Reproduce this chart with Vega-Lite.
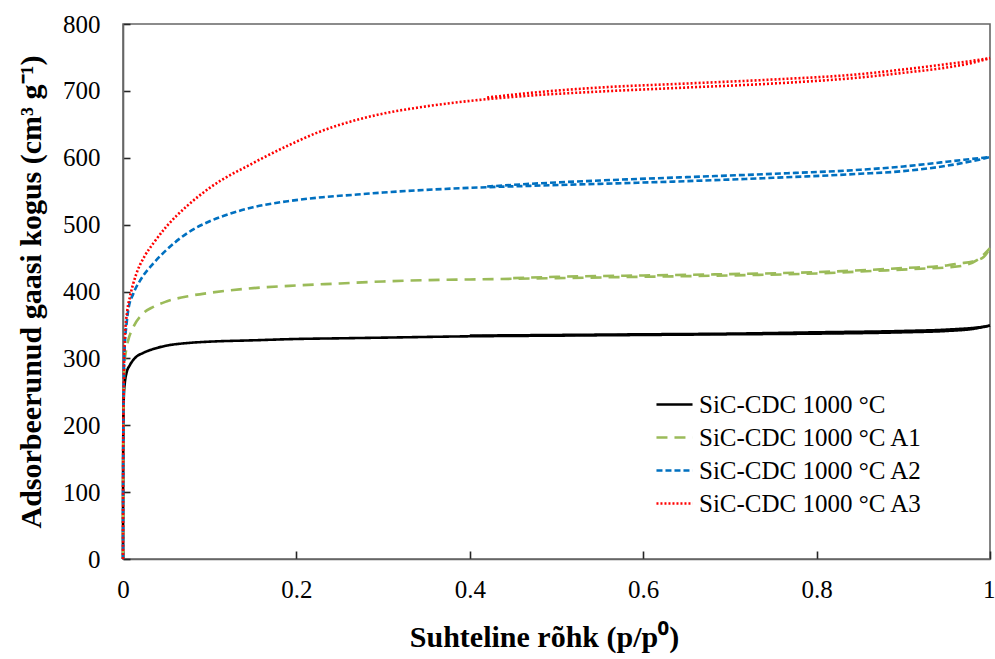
{
  "$schema": "https://vega.github.io/schema/vega-lite/v6.json",
  "width": 867,
  "height": 535,
  "autosize": "none",
  "padding": {"left": 123, "top": 24, "right": 5, "bottom": 100},
  "background": "white",
  "config": {
    "view": {"stroke": "#666666", "strokeWidth": 1.6}
  },
  "data": {
    "values": [
      {"s": "SiC-CDC 1000 °C", "b": "ads", "x": 0, "y": 0},
      {"s": "SiC-CDC 1000 °C", "b": "ads", "x": 0.0001, "y": 120},
      {"s": "SiC-CDC 1000 °C", "b": "ads", "x": 0.0004, "y": 200},
      {"s": "SiC-CDC 1000 °C", "b": "ads", "x": 0.001, "y": 245},
      {"s": "SiC-CDC 1000 °C", "b": "ads", "x": 0.002, "y": 262},
      {"s": "SiC-CDC 1000 °C", "b": "ads", "x": 0.004, "y": 278},
      {"s": "SiC-CDC 1000 °C", "b": "ads", "x": 0.008, "y": 290},
      {"s": "SiC-CDC 1000 °C", "b": "ads", "x": 0.015, "y": 302},
      {"s": "SiC-CDC 1000 °C", "b": "ads", "x": 0.023, "y": 308},
      {"s": "SiC-CDC 1000 °C", "b": "ads", "x": 0.035, "y": 314},
      {"s": "SiC-CDC 1000 °C", "b": "ads", "x": 0.05, "y": 319},
      {"s": "SiC-CDC 1000 °C", "b": "ads", "x": 0.075, "y": 323},
      {"s": "SiC-CDC 1000 °C", "b": "ads", "x": 0.1, "y": 325},
      {"s": "SiC-CDC 1000 °C", "b": "ads", "x": 0.15, "y": 327},
      {"s": "SiC-CDC 1000 °C", "b": "ads", "x": 0.2, "y": 329},
      {"s": "SiC-CDC 1000 °C", "b": "ads", "x": 0.25, "y": 330},
      {"s": "SiC-CDC 1000 °C", "b": "ads", "x": 0.3, "y": 331},
      {"s": "SiC-CDC 1000 °C", "b": "ads", "x": 0.4, "y": 333},
      {"s": "SiC-CDC 1000 °C", "b": "ads", "x": 0.5, "y": 334},
      {"s": "SiC-CDC 1000 °C", "b": "ads", "x": 0.6, "y": 335},
      {"s": "SiC-CDC 1000 °C", "b": "ads", "x": 0.7, "y": 336},
      {"s": "SiC-CDC 1000 °C", "b": "ads", "x": 0.8, "y": 337},
      {"s": "SiC-CDC 1000 °C", "b": "ads", "x": 0.9, "y": 339},
      {"s": "SiC-CDC 1000 °C", "b": "ads", "x": 0.95, "y": 341},
      {"s": "SiC-CDC 1000 °C", "b": "ads", "x": 0.98, "y": 344},
      {"s": "SiC-CDC 1000 °C", "b": "ads", "x": 1.0, "y": 349},
      {"s": "SiC-CDC 1000 °C", "b": "des", "x": 1.0, "y": 349},
      {"s": "SiC-CDC 1000 °C", "b": "des", "x": 0.99, "y": 347},
      {"s": "SiC-CDC 1000 °C", "b": "des", "x": 0.95, "y": 343},
      {"s": "SiC-CDC 1000 °C", "b": "des", "x": 0.9, "y": 341},
      {"s": "SiC-CDC 1000 °C", "b": "des", "x": 0.8, "y": 339},
      {"s": "SiC-CDC 1000 °C", "b": "des", "x": 0.7, "y": 337},
      {"s": "SiC-CDC 1000 °C", "b": "des", "x": 0.6, "y": 336},
      {"s": "SiC-CDC 1000 °C", "b": "des", "x": 0.5, "y": 335},
      {"s": "SiC-CDC 1000 °C", "b": "des", "x": 0.4, "y": 334},

      {"s": "SiC-CDC 1000 °C A1", "b": "ads", "x": 0, "y": 0},
      {"s": "SiC-CDC 1000 °C A1", "b": "ads", "x": 0.0002, "y": 150},
      {"s": "SiC-CDC 1000 °C A1", "b": "ads", "x": 0.001, "y": 260},
      {"s": "SiC-CDC 1000 °C A1", "b": "ads", "x": 0.002, "y": 295},
      {"s": "SiC-CDC 1000 °C A1", "b": "ads", "x": 0.004, "y": 315},
      {"s": "SiC-CDC 1000 °C A1", "b": "ads", "x": 0.006, "y": 327},
      {"s": "SiC-CDC 1000 °C A1", "b": "ads", "x": 0.012, "y": 347},
      {"s": "SiC-CDC 1000 °C A1", "b": "ads", "x": 0.023, "y": 367},
      {"s": "SiC-CDC 1000 °C A1", "b": "ads", "x": 0.035, "y": 377},
      {"s": "SiC-CDC 1000 °C A1", "b": "ads", "x": 0.05, "y": 385},
      {"s": "SiC-CDC 1000 °C A1", "b": "ads", "x": 0.075, "y": 393},
      {"s": "SiC-CDC 1000 °C A1", "b": "ads", "x": 0.1, "y": 398},
      {"s": "SiC-CDC 1000 °C A1", "b": "ads", "x": 0.15, "y": 405},
      {"s": "SiC-CDC 1000 °C A1", "b": "ads", "x": 0.2, "y": 409},
      {"s": "SiC-CDC 1000 °C A1", "b": "ads", "x": 0.25, "y": 412},
      {"s": "SiC-CDC 1000 °C A1", "b": "ads", "x": 0.3, "y": 415},
      {"s": "SiC-CDC 1000 °C A1", "b": "ads", "x": 0.35, "y": 417},
      {"s": "SiC-CDC 1000 °C A1", "b": "ads", "x": 0.4, "y": 418},
      {"s": "SiC-CDC 1000 °C A1", "b": "ads", "x": 0.5, "y": 420},
      {"s": "SiC-CDC 1000 °C A1", "b": "ads", "x": 0.6, "y": 422},
      {"s": "SiC-CDC 1000 °C A1", "b": "ads", "x": 0.7, "y": 424},
      {"s": "SiC-CDC 1000 °C A1", "b": "ads", "x": 0.8, "y": 427},
      {"s": "SiC-CDC 1000 °C A1", "b": "ads", "x": 0.87, "y": 431},
      {"s": "SiC-CDC 1000 °C A1", "b": "ads", "x": 0.92, "y": 434},
      {"s": "SiC-CDC 1000 °C A1", "b": "ads", "x": 0.95, "y": 436},
      {"s": "SiC-CDC 1000 °C A1", "b": "ads", "x": 0.97, "y": 439},
      {"s": "SiC-CDC 1000 °C A1", "b": "ads", "x": 0.985, "y": 447},
      {"s": "SiC-CDC 1000 °C A1", "b": "ads", "x": 0.995, "y": 458},
      {"s": "SiC-CDC 1000 °C A1", "b": "ads", "x": 1.0, "y": 465},
      {"s": "SiC-CDC 1000 °C A1", "b": "des", "x": 1.0, "y": 465},
      {"s": "SiC-CDC 1000 °C A1", "b": "des", "x": 0.993, "y": 452},
      {"s": "SiC-CDC 1000 °C A1", "b": "des", "x": 0.98, "y": 445},
      {"s": "SiC-CDC 1000 °C A1", "b": "des", "x": 0.965, "y": 442},
      {"s": "SiC-CDC 1000 °C A1", "b": "des", "x": 0.95, "y": 439},
      {"s": "SiC-CDC 1000 °C A1", "b": "des", "x": 0.9, "y": 435},
      {"s": "SiC-CDC 1000 °C A1", "b": "des", "x": 0.8, "y": 429},
      {"s": "SiC-CDC 1000 °C A1", "b": "des", "x": 0.7, "y": 426},
      {"s": "SiC-CDC 1000 °C A1", "b": "des", "x": 0.6, "y": 424},
      {"s": "SiC-CDC 1000 °C A1", "b": "des", "x": 0.5, "y": 422},
      {"s": "SiC-CDC 1000 °C A1", "b": "des", "x": 0.45, "y": 420},

      {"s": "SiC-CDC 1000 °C A2", "b": "ads", "x": 0, "y": 0},
      {"s": "SiC-CDC 1000 °C A2", "b": "ads", "x": 0.0002, "y": 150},
      {"s": "SiC-CDC 1000 °C A2", "b": "ads", "x": 0.001, "y": 280},
      {"s": "SiC-CDC 1000 °C A2", "b": "ads", "x": 0.002, "y": 318},
      {"s": "SiC-CDC 1000 °C A2", "b": "ads", "x": 0.004, "y": 350},
      {"s": "SiC-CDC 1000 °C A2", "b": "ads", "x": 0.006, "y": 372},
      {"s": "SiC-CDC 1000 °C A2", "b": "ads", "x": 0.012, "y": 397},
      {"s": "SiC-CDC 1000 °C A2", "b": "ads", "x": 0.02, "y": 417},
      {"s": "SiC-CDC 1000 °C A2", "b": "ads", "x": 0.035, "y": 442},
      {"s": "SiC-CDC 1000 °C A2", "b": "ads", "x": 0.05, "y": 462},
      {"s": "SiC-CDC 1000 °C A2", "b": "ads", "x": 0.075, "y": 488},
      {"s": "SiC-CDC 1000 °C A2", "b": "ads", "x": 0.1, "y": 505},
      {"s": "SiC-CDC 1000 °C A2", "b": "ads", "x": 0.125, "y": 517},
      {"s": "SiC-CDC 1000 °C A2", "b": "ads", "x": 0.15, "y": 526},
      {"s": "SiC-CDC 1000 °C A2", "b": "ads", "x": 0.19, "y": 535},
      {"s": "SiC-CDC 1000 °C A2", "b": "ads", "x": 0.23, "y": 541},
      {"s": "SiC-CDC 1000 °C A2", "b": "ads", "x": 0.27, "y": 545},
      {"s": "SiC-CDC 1000 °C A2", "b": "ads", "x": 0.3, "y": 548},
      {"s": "SiC-CDC 1000 °C A2", "b": "ads", "x": 0.35, "y": 552},
      {"s": "SiC-CDC 1000 °C A2", "b": "ads", "x": 0.4, "y": 555},
      {"s": "SiC-CDC 1000 °C A2", "b": "ads", "x": 0.47, "y": 558},
      {"s": "SiC-CDC 1000 °C A2", "b": "ads", "x": 0.55, "y": 561},
      {"s": "SiC-CDC 1000 °C A2", "b": "ads", "x": 0.65, "y": 565},
      {"s": "SiC-CDC 1000 °C A2", "b": "ads", "x": 0.75, "y": 570},
      {"s": "SiC-CDC 1000 °C A2", "b": "ads", "x": 0.85, "y": 576},
      {"s": "SiC-CDC 1000 °C A2", "b": "ads", "x": 0.9, "y": 580},
      {"s": "SiC-CDC 1000 °C A2", "b": "ads", "x": 0.95, "y": 588},
      {"s": "SiC-CDC 1000 °C A2", "b": "ads", "x": 0.98, "y": 595},
      {"s": "SiC-CDC 1000 °C A2", "b": "ads", "x": 1.0, "y": 601},
      {"s": "SiC-CDC 1000 °C A2", "b": "des", "x": 1.0, "y": 601},
      {"s": "SiC-CDC 1000 °C A2", "b": "des", "x": 0.97, "y": 597},
      {"s": "SiC-CDC 1000 °C A2", "b": "des", "x": 0.95, "y": 594},
      {"s": "SiC-CDC 1000 °C A2", "b": "des", "x": 0.9, "y": 587},
      {"s": "SiC-CDC 1000 °C A2", "b": "des", "x": 0.85, "y": 582},
      {"s": "SiC-CDC 1000 °C A2", "b": "des", "x": 0.75, "y": 576},
      {"s": "SiC-CDC 1000 °C A2", "b": "des", "x": 0.65, "y": 571},
      {"s": "SiC-CDC 1000 °C A2", "b": "des", "x": 0.55, "y": 566},
      {"s": "SiC-CDC 1000 °C A2", "b": "des", "x": 0.47, "y": 561},
      {"s": "SiC-CDC 1000 °C A2", "b": "des", "x": 0.42, "y": 557},

      {"s": "SiC-CDC 1000 °C A3", "b": "ads", "x": 0, "y": 0},
      {"s": "SiC-CDC 1000 °C A3", "b": "ads", "x": 0.0002, "y": 150},
      {"s": "SiC-CDC 1000 °C A3", "b": "ads", "x": 0.001, "y": 270},
      {"s": "SiC-CDC 1000 °C A3", "b": "ads", "x": 0.002, "y": 327},
      {"s": "SiC-CDC 1000 °C A3", "b": "ads", "x": 0.005, "y": 372},
      {"s": "SiC-CDC 1000 °C A3", "b": "ads", "x": 0.008, "y": 392},
      {"s": "SiC-CDC 1000 °C A3", "b": "ads", "x": 0.015, "y": 425},
      {"s": "SiC-CDC 1000 °C A3", "b": "ads", "x": 0.025, "y": 453},
      {"s": "SiC-CDC 1000 °C A3", "b": "ads", "x": 0.035, "y": 472},
      {"s": "SiC-CDC 1000 °C A3", "b": "ads", "x": 0.05, "y": 497},
      {"s": "SiC-CDC 1000 °C A3", "b": "ads", "x": 0.074, "y": 528},
      {"s": "SiC-CDC 1000 °C A3", "b": "ads", "x": 0.1, "y": 555},
      {"s": "SiC-CDC 1000 °C A3", "b": "ads", "x": 0.15, "y": 592},
      {"s": "SiC-CDC 1000 °C A3", "b": "ads", "x": 0.19, "y": 618},
      {"s": "SiC-CDC 1000 °C A3", "b": "ads", "x": 0.227, "y": 639},
      {"s": "SiC-CDC 1000 °C A3", "b": "ads", "x": 0.265, "y": 655},
      {"s": "SiC-CDC 1000 °C A3", "b": "ads", "x": 0.3, "y": 666},
      {"s": "SiC-CDC 1000 °C A3", "b": "ads", "x": 0.34, "y": 675},
      {"s": "SiC-CDC 1000 °C A3", "b": "ads", "x": 0.4, "y": 685},
      {"s": "SiC-CDC 1000 °C A3", "b": "ads", "x": 0.47, "y": 693},
      {"s": "SiC-CDC 1000 °C A3", "b": "ads", "x": 0.55, "y": 699},
      {"s": "SiC-CDC 1000 °C A3", "b": "ads", "x": 0.65, "y": 705},
      {"s": "SiC-CDC 1000 °C A3", "b": "ads", "x": 0.75, "y": 711},
      {"s": "SiC-CDC 1000 °C A3", "b": "ads", "x": 0.85, "y": 720},
      {"s": "SiC-CDC 1000 °C A3", "b": "ads", "x": 0.9, "y": 727},
      {"s": "SiC-CDC 1000 °C A3", "b": "ads", "x": 0.95, "y": 735},
      {"s": "SiC-CDC 1000 °C A3", "b": "ads", "x": 0.98, "y": 742},
      {"s": "SiC-CDC 1000 °C A3", "b": "ads", "x": 1.0, "y": 749},
      {"s": "SiC-CDC 1000 °C A3", "b": "des", "x": 1.0, "y": 749},
      {"s": "SiC-CDC 1000 °C A3", "b": "des", "x": 0.98, "y": 745},
      {"s": "SiC-CDC 1000 °C A3", "b": "des", "x": 0.95, "y": 740},
      {"s": "SiC-CDC 1000 °C A3", "b": "des", "x": 0.9, "y": 732},
      {"s": "SiC-CDC 1000 °C A3", "b": "des", "x": 0.85, "y": 725},
      {"s": "SiC-CDC 1000 °C A3", "b": "des", "x": 0.75, "y": 717},
      {"s": "SiC-CDC 1000 °C A3", "b": "des", "x": 0.65, "y": 711},
      {"s": "SiC-CDC 1000 °C A3", "b": "des", "x": 0.55, "y": 705},
      {"s": "SiC-CDC 1000 °C A3", "b": "des", "x": 0.47, "y": 697},
      {"s": "SiC-CDC 1000 °C A3", "b": "des", "x": 0.42, "y": 690}
    ]
  },
  "mark": {"type": "line", "strokeWidth": 2.6, "interpolate": "monotone"},
  "encoding": {
    "x": {
      "field": "x", "type": "quantitative",
      "scale": {"domain": [0, 1], "nice": false},
      "axis": {
        "values": [0, 0.2, 0.4, 0.6, 0.8, 1],
        "labelExpr": "datum.value == 0 ? '0' : datum.value == 1 ? '1' : format(datum.value, '.1f')",
        "grid": false, "domainColor": "#666666", "domainWidth": 1.6,
        "ticks": true, "tickColor": "#262626", "tickWidth": 1.6, "tickSize": -8,
        "labelFont": "Liberation Serif", "labelFontSize": 25, "labelColor": "#000000",
        "labelPadding": 26, "labelFlush": false,
        "labelAlign": {"condition": {"test": "datum.value == 1", "value": "right"}, "value": "center"},
        "labelOffset": {"condition": {"test": "datum.value == 1", "value": 5}, "value": 0},
        "title": "Suhteline rõhk (p/p⁰)", "titleFont": "Liberation Serif", "titleFontSize": 30,
        "titleFontWeight": "bold", "titleColor": "#000000", "titlePadding": 20, "titleX": 421
      }
    },
    "y": {
      "field": "y", "type": "quantitative",
      "scale": {"domain": [0, 800], "nice": false},
      "axis": {
        "values": [0, 100, 200, 300, 400, 500, 600, 700, 800],
        "grid": false, "domainColor": "#666666", "domainWidth": 1.6,
        "ticks": true, "tickColor": "#262626", "tickWidth": 1.6, "tickSize": -7,
        "labelFont": "Liberation Serif", "labelFontSize": 25, "labelColor": "#000000",
        "labelPadding": 30, "labelFlush": false,
        "title": "Adsorbeerunud  gaasi kogus (cm³ g⁻¹)", "titleFont": "Liberation Serif", "titleFontSize": 30,
        "titleFontWeight": "bold", "titleColor": "#000000", "titlePadding": 16
      }
    },
    "detail": {"field": "b", "type": "nominal"},
    "order": {"field": "x", "type": "quantitative"},
    "color": {
      "field": "s", "type": "nominal",
      "scale": {"domain": ["SiC-CDC 1000 °C", "SiC-CDC 1000 °C A1", "SiC-CDC 1000 °C A2", "SiC-CDC 1000 °C A3"], "range": ["#000000", "#9BBB59", "#0070C0", "#FF0000"]},
      "legend": {
        "title": null, "orient": "none", "legendX": 532, "legendY": 361,
        "symbolType": "stroke", "symbolSize": 1300, "symbolStrokeWidth": 2.6,
        "labelFont": "Liberation Serif", "labelFontSize": 25, "labelColor": "#000000",
        "labelOffset": 5, "rowPadding": 0, "labelLimit": 400
      }
    },
    "strokeDash": {
      "field": "s", "type": "nominal",
      "scale": {"domain": ["SiC-CDC 1000 °C", "SiC-CDC 1000 °C A1", "SiC-CDC 1000 °C A2", "SiC-CDC 1000 °C A3"], "range": [[1, 0], [11, 7], [6, 3], [2, 2]]},
      "legend": {
        "title": null, "orient": "none", "legendX": 532, "legendY": 361,
        "symbolType": "stroke", "symbolSize": 1300, "symbolStrokeWidth": 2.6,
        "labelFont": "Liberation Serif", "labelFontSize": 25, "labelColor": "#000000",
        "labelOffset": 5, "rowPadding": 0, "labelLimit": 400
      }
    }
  }
}
